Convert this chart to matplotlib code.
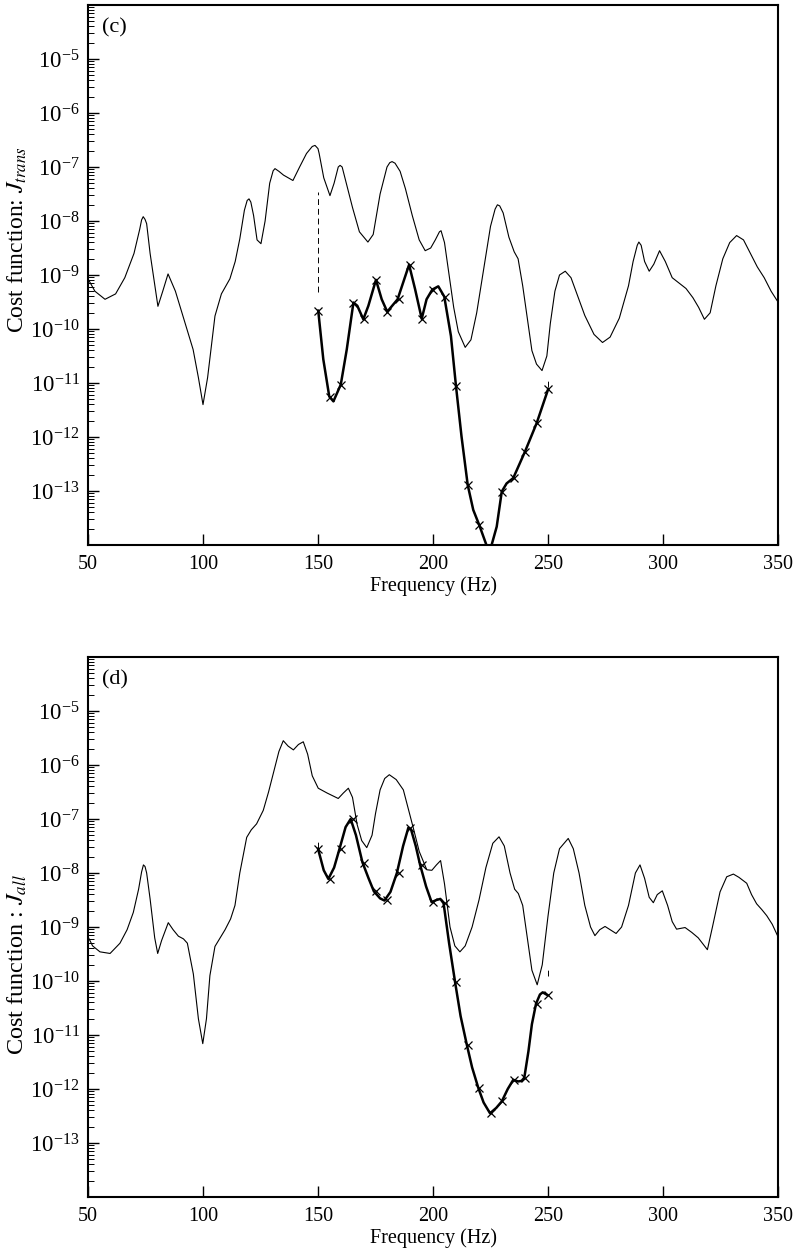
import numpy as np
import matplotlib
matplotlib.use("Agg")
import matplotlib.pyplot as plt
from matplotlib.ticker import LogLocator, NullFormatter, FixedLocator, LogFormatterMathtext

plt.rcParams['font.family'] = ['Liberation Serif', 'DejaVu Serif']
plt.rcParams['mathtext.fontset'] = 'stix'

# ---------------- panel (c): J_trans ----------------
c_unc_freq = [50, 53, 57.4, 62, 66, 70, 72.5, 73.3, 74, 74.8, 75.5, 77, 80.4, 82.5, 84.8, 88, 91.3, 95.7, 98,
              100, 102, 105.2, 108, 111.7, 114, 116, 118, 119.2, 120, 120.8, 122, 123.5, 125.2, 127, 129,
              130.5, 131.3, 133, 135, 139.1, 142, 145, 147.5, 148.7, 150, 150.5, 152.5, 155.2, 157, 158.8,
              159.6, 160.5, 162, 165, 168, 171.7, 174, 177, 180, 181.2, 182.2, 183.5, 185.7, 188, 191, 194,
              196.6, 199, 201, 202.8, 203.5, 205, 207, 209, 211, 214, 216.5, 219, 222, 225, 227, 228, 229,
              230.5, 233, 235.3, 237, 239, 241, 243, 245, 247.4, 249.5, 251, 253, 255, 257.5, 260, 263, 266,
              270, 273.7, 277, 281, 285, 287, 288.8, 289.5, 290.5, 292, 294, 296, 298.5, 301, 304, 307, 310,
              313, 315.5, 318, 320.5, 323, 326, 329, 332, 335, 338, 341, 344, 347, 350]
c_unc_log = [-9.07, -9.30, -9.45, -9.35, -9.05, -8.60, -8.15, -7.98, -7.92, -7.97, -8.05, -8.6, -9.58, -9.3,
             -8.98, -9.3, -9.76, -10.38, -10.9, -11.40, -10.9, -9.76, -9.35, -9.07, -8.75, -8.33, -7.8, -7.62,
             -7.59, -7.65, -7.9, -8.35, -8.42, -8.0, -7.3, -7.07, -7.03, -7.08, -7.15, -7.25, -7.0, -6.75,
             -6.62, -6.60, -6.66, -6.75, -7.2, -7.53, -7.3, -7.0, -6.97, -7.0, -7.25, -7.75, -8.2, -8.39,
             -8.25, -7.5, -7.0, -6.92, -6.90, -6.93, -7.08, -7.4, -7.9, -8.35, -8.55, -8.5, -8.35, -8.2,
             -8.18, -8.4, -9.0, -9.6, -10.05, -10.34, -10.2, -9.7, -8.9, -8.1, -7.78, -7.70, -7.72, -7.85,
             -8.3, -8.57, -8.7, -9.2, -9.8, -10.4, -10.65, -10.77, -10.5, -9.9, -9.3, -9.0, -8.93, -9.05,
             -9.4, -9.75, -10.1, -10.25, -10.15, -9.8, -9.2, -8.75, -8.45, -8.39, -8.45, -8.75, -8.93, -8.8,
             -8.55, -8.75, -9.05, -9.15, -9.25, -9.42, -9.6, -9.82, -9.7, -9.2, -8.7, -8.4, -8.27, -8.35,
             -8.6, -8.85, -9.05, -9.3, -9.5]

c_ctl_freq = [150.1, 152.3, 154.9, 156.7, 159.9, 162.5, 165.4, 167.1, 169.7, 171.9, 175.2, 177.7, 180.1,
              184.6, 189.6, 192.2, 195.1, 197.2, 199.7, 202.3, 204.9, 207.8, 210.0, 212.4, 215.1, 217.5,
              220.1, 224.5, 227.7, 229.9, 232.0, 234.9, 240.0, 245.1, 250.1]
c_ctl_log = [-9.66, -10.56, -11.25, -11.34, -11.03, -10.38, -9.51, -9.57, -9.82, -9.57, -9.09, -9.45, -9.68,
             -9.45, -8.81, -9.26, -9.81, -9.45, -9.27, -9.21, -9.40, -10.13, -11.06, -11.99, -12.89, -13.35,
             -13.63, -14.15, -13.66, -13.01, -12.86, -12.76, -12.27, -11.74, -11.11]

c_mark_freq = [150, 155, 160, 165, 170, 175, 180, 185, 190, 195, 200, 205, 210, 215, 220, 225, 230, 235,
               240, 245, 250]
c_mark_log = [-9.66, -11.25, -11.03, -9.51, -9.82, -9.09, -9.68, -9.45, -8.81, -9.81, -9.27, -9.40, -11.06,
              -12.89, -13.63, -14.3, -13.01, -12.76, -12.27, -11.74, -11.11]

c_dash_freq = [150, 250]
c_dash_lo = [-9.32, -11.08]
c_dash_hi = [-7.46, -10.92]

# ---------------- panel (d): J_all ----------------
d_unc_freq = [50, 52, 55.2, 59.6, 63.9, 67, 69.7, 72, 73.3, 74.1, 74.8, 75.5, 77, 79, 80.3, 82, 84.9, 87,
              89.3, 91.5, 93.2, 95.8, 98, 99.9, 101.5, 103, 105.2, 107.5, 109.6, 112, 113.9, 116, 119, 121,
              123.3, 126.2, 128.5, 130.6, 133, 134.9, 137, 139.3, 141.5, 143.6, 145.5, 147.5, 150.1, 154,
              158.8, 161, 163.2, 165, 167, 169, 171.2, 173.5, 175, 177, 179, 181, 184, 187.1, 189.5, 191.4,
              194, 197.3, 199.5, 201.5, 203.3, 205, 207.4, 209.5, 211.7, 214, 217, 220, 223, 226, 228.7, 231,
              233.5, 235.5, 237.1, 239, 241, 243, 245.3, 247.5, 250, 252.5, 255, 258.8, 261, 263.5, 266,
              268.5, 270.4, 272.5, 274.8, 277, 279.6, 282, 285, 288, 290, 292, 294, 295.8, 297.5, 299.7,
              302, 304, 305.9, 309.6, 312.5, 315.3, 319.3, 321.5, 324.8, 327.7, 330.6, 333, 336.4, 338.5,
              340.7, 343, 345.1, 347.5, 349.9]
d_unc_log = [-9.18, -9.35, -9.46, -9.49, -9.30, -9.05, -8.73, -8.3, -7.98, -7.85, -7.88, -8.0, -8.48, -9.2,
             -9.49, -9.25, -8.92, -9.05, -9.17, -9.22, -9.30, -9.87, -10.7, -11.16, -10.7, -9.9, -9.36, -9.2,
             -9.05, -8.85, -8.60, -8.0, -7.34, -7.2, -7.09, -6.84, -6.5, -6.15, -5.75, -5.55, -5.65, -5.72,
             -5.62, -5.57, -5.8, -6.2, -6.43, -6.52, -6.62, -6.52, -6.43, -6.6, -7.1, -7.4, -7.53, -7.3,
             -6.9, -6.46, -6.25, -6.18, -6.27, -6.46, -6.85, -7.16, -7.6, -7.94, -7.95, -7.85, -7.77, -8.2,
             -9.0, -9.35, -9.46, -9.35, -9.0, -8.5, -7.9, -7.45, -7.33, -7.5, -8.0, -8.3, -8.38, -8.6, -9.2,
             -9.8, -10.07, -9.7, -8.8, -8.0, -7.55, -7.36, -7.55, -8.0, -8.6, -9.0, -9.16, -9.05, -8.99,
             -9.05, -9.12, -9.0, -8.6, -8.0, -7.85, -8.1, -8.45, -8.55, -8.4, -8.33, -8.6, -8.9, -9.04,
             -9.01, -9.1, -9.20, -9.42, -9.0, -8.35, -8.07, -8.02, -8.08, -8.19, -8.4, -8.57, -8.68, -8.79,
             -8.95, -9.17]

d_ctl_freq = [150, 152.5, 154.5, 157, 159.3, 162, 164.2, 166.5, 169.3, 172, 174.3, 177, 178.9, 181.5, 184.3,
              187, 189.3, 190.5, 192.5, 194.4, 197, 199.4, 201.5, 203.2, 204.6, 207, 209.6, 212, 214.7,
              217, 219.7, 222, 224.8, 227.5, 229.9, 232.5, 234.9, 237, 238.5, 239.7, 241.5, 243, 244.8,
              246.5, 247.7, 249.7]
d_ctl_log = [-7.55, -7.95, -8.11, -7.9, -7.56, -7.15, -7.00, -7.3, -7.8, -8.1, -8.34, -8.47, -8.51, -8.35,
             -8.0, -7.5, -7.16, -7.2, -7.5, -7.85, -8.25, -8.54, -8.5, -8.48, -8.56, -9.3, -10.02, -10.65,
             -11.18, -11.6, -11.98, -12.25, -12.45, -12.35, -12.23, -12.0, -11.83, -11.86, -11.85, -11.79,
             -11.3, -10.8, -10.42, -10.25, -10.21, -10.26]

d_mark_freq = [150, 155, 160, 165, 170, 175, 180, 185, 190, 195, 200, 205, 210, 215, 220, 225, 230, 235,
               240, 245, 250]
d_mark_log = [-7.55, -8.11, -7.56, -7.00, -7.81, -8.34, -8.50, -8.00, -7.16, -7.85, -8.54, -8.56, -10.02,
              -11.18, -11.98, -12.45, -12.23, -11.83, -11.79, -10.42, -10.26]

d_dash_freq = [150, 250]
d_dash_lo = [-7.53, -9.91]
d_dash_hi = [-7.38, -9.76]

x_ticks = [50, 100, 150, 200, 250, 300, 350]
y_ticks = [1e-13, 1e-12, 1e-11, 1e-10, 1e-9, 1e-8, 1e-7, 1e-6, 1e-5]

W, H = 800, 1256
fig = plt.figure(figsize=(W / 100, H / 100), dpi=100)

def axes_px(left, top, right, bottom):
    return fig.add_axes([left / W, 1 - bottom / H, (right - left) / W, (bottom - top) / H])

ax_c = axes_px(88, 5, 778, 545)
ax_d = axes_px(88, 657, 778, 1197)

panels = [
    (ax_c, c_unc_freq, c_unc_log, c_ctl_freq, c_ctl_log, c_mark_freq, c_mark_log,
     c_dash_freq, c_dash_lo, c_dash_hi, "(c)", r"Cost function: $J_{trans}$", 17, 0.565),
    (ax_d, d_unc_freq, d_unc_log, d_ctl_freq, d_ctl_log, d_mark_freq, d_mark_log,
     d_dash_freq, d_dash_lo, d_dash_hi, "(d)", r"Cost function : $J_{all}$", 17.5, 0.43),
]

for (ax, uf, ul, cf, cl, mf, ml, df, dlo, dhi, tag, ylabel, ylsize, ylpos) in panels:
    ax.semilogy(uf, 10.0 ** np.array(ul), color='black', lw=0.8)
    ax.semilogy(cf, 10.0 ** np.array(cl), color='black', lw=1.8)
    ax.semilogy(mf, 10.0 ** np.array(ml), linestyle='none', marker='x', ms=6, mew=0.9, color='black')
    ax.vlines(df, 10.0 ** np.array(dlo), 10.0 ** np.array(dhi), colors='black', linestyles=(0, (6, 4)), lw=0.7)

    ax.set_xlim(50, 350)
    ax.set_ylim(1e-14, 1e-4)
    ax.xaxis.set_major_locator(FixedLocator(x_ticks))
    ax.yaxis.set_major_locator(FixedLocator(y_ticks))
    ax.yaxis.set_major_formatter(LogFormatterMathtext())
    ax.yaxis.set_minor_locator(LogLocator(base=10, subs=np.arange(2, 10), numticks=30))
    ax.yaxis.set_minor_formatter(NullFormatter())
    ax.tick_params(axis='both', which='major', direction='in', length=8, width=1.0,
                   top=False, right=False)
    ax.tick_params(axis='x', labelsize=14.5, pad=7)
    ax.tick_params(axis='y', labelsize=16.5, pad=6)
    ax.tick_params(axis='y', which='minor', direction='in', length=4, width=0.7, right=False)
    for s in ax.spines.values():
        s.set_linewidth(1.5)
    ax.text(0.02, 0.957, tag, transform=ax.transAxes, fontsize=16, ha='left', va='center')
    ax.set_xlabel("Frequency (Hz)", fontsize=14.5, labelpad=2)
    ax.set_ylabel(ylabel, fontsize=ylsize)
    ax.yaxis.label.set_verticalalignment('center')
    ax.yaxis.set_label_coords(-0.102, ylpos)

fig.savefig("out.png", dpi=100)
